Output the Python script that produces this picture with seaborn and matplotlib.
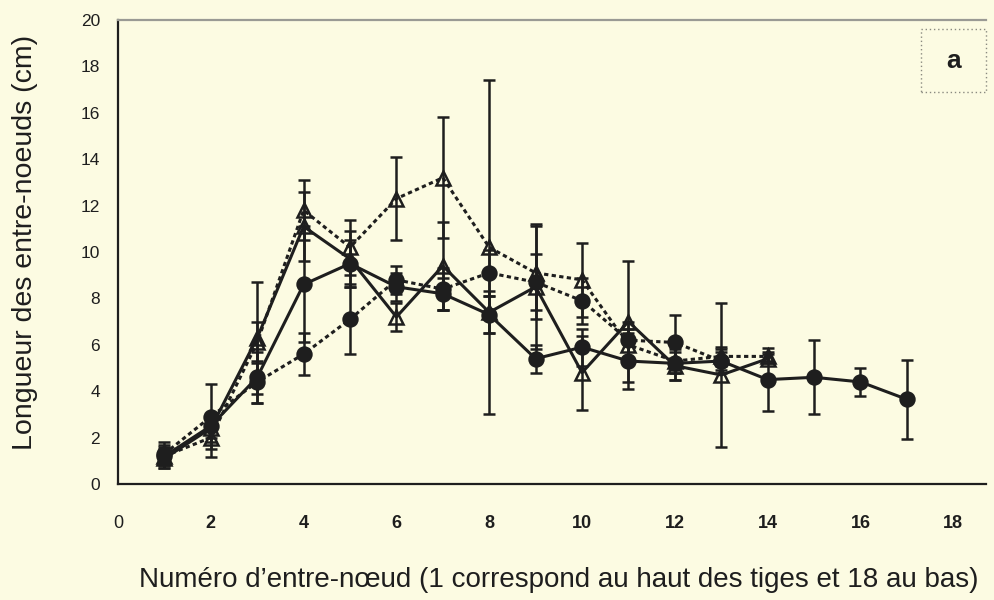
import matplotlib
matplotlib.use("Agg")
import matplotlib.pyplot as plt
from matplotlib.patches import Rectangle
import numpy as np
import pandas as pd
import seaborn as sns

# Internode number (1 = top of stem)
internodes_long = list(range(1, 18))
internodes_14 = list(range(1, 15))
internodes_13 = list(range(1, 14))

# Solid line, filled circles
solid_circle_mean = [1.2, 2.5, 4.6, 8.6, 9.5, 8.5, 8.2, 7.3, 5.4, 5.9, 5.3, 5.2, 5.3, 4.5, 4.6, 4.4, 3.65]
solid_circle_err = [0.4, 0.5, 1.1, 2.5, 1.0, 0.6, 0.7, 0.8, 0.6, 0.8, 1.2, 0.7, 0.4, 1.35, 1.6, 0.6, 1.7]

# Solid line, open triangles
solid_tri_mean = [1.1, 2.4, 6.3, 11.1, 9.7, 7.2, 9.4, 7.4, 8.5, 4.8, 7.0, 5.1, 4.7, 5.4]
solid_tri_err = [0.4, 0.6, 2.4, 1.5, 1.2, 0.6, 1.9, 0.9, 2.7, 1.6, 2.6, 0.6, 3.1, 0.2]

# Dotted line, filled circles
dotted_circle_mean = [1.3, 2.9, 4.4, 5.6, 7.1, 8.8, 8.4, 9.1, 8.7, 7.9, 6.2, 6.1, 5.3]
dotted_circle_err = [0.5, 1.4, 0.9, 0.9, 1.5, 0.6, 0.9, 1.0, 1.2, 1.0, 0.8, 1.2, 0.5]

# Dotted line, open triangles
dotted_tri_mean = [1.2, 2.0, 6.1, 11.8, 10.2, 12.3, 13.2, 10.2, 9.1, 8.8, 6.0, 5.3, 5.5, 5.5]
dotted_tri_err = [0.5, 0.85, 0.9, 1.3, 1.2, 1.8, 2.6, 7.2, 2.0, 1.6, 0.7, 0.5, 0.4, 0.2]

x_ticks = [0, 2, 4, 6, 8, 10, 12, 14, 16, 18]
y_ticks = [0, 2, 4, 6, 8, 10, 12, 14, 16, 18, 20]

x_label = "Numéro d\u2019entre-nœud (1 correspond au haut des tiges et 18 au bas)"
y_label = "Longueur des entre-noeuds (cm)"
panel_label = "a"

paper = "#FCFBE2"
ink = "#1e1e1e"
fonts = ["Liberation Sans", "DejaVu Sans"]

sns.set_style("white")
plt.rcParams["font.family"] = fonts

fig = plt.figure(figsize=(9.94, 6.0), dpi=100, facecolor=paper)
ax = fig.add_axes([0.1187, 0.1933, 0.873, 0.7734], facecolor=paper)

series = [
    (internodes_long, solid_circle_mean, solid_circle_err, "-", "o", ink),
    (internodes_14, solid_tri_mean, solid_tri_err, "-", "^", "none"),
    (internodes_13, dotted_circle_mean, dotted_circle_err, (0, (1.4, 1.1)), "o", ink),
    (internodes_14, dotted_tri_mean, dotted_tri_err, (0, (1.4, 1.1)), "^", "none"),
]

for xs, ms, es, ls, mk, fc in series:
    df = pd.DataFrame({"x": xs, "y": ms})
    ax.errorbar(df["x"], df["y"], yerr=es, fmt="none", ecolor=ink,
                elinewidth=1.8, capsize=4, capthick=1.8, zorder=2)
    sns.lineplot(data=df, x="x", y="y", ax=ax, color=ink, linestyle=ls,
                 linewidth=2.2, marker=mk, markersize=10,
                 markerfacecolor=fc, markeredgecolor=ink, markeredgewidth=1.8,
                 zorder=3)

ax.set_xlim(0, 18.7)
ax.set_ylim(0, 20)
ax.set_xticks(x_ticks)
ax.set_yticks(y_ticks)
ax.set_xticklabels([str(v) for v in x_ticks], fontsize=13, fontweight="bold", color=ink)
ax.set_yticklabels([str(v) for v in y_ticks], fontsize=12.5, color=ink)
ax.get_xticklabels()[0].set_fontweight("normal")
ax.tick_params(axis="both", direction="out", length=5, width=1.4, color=ink, pad=8)
ax.tick_params(axis="x", pad=17)

for side in ("left", "bottom"):
    ax.spines[side].set_color(ink)
    ax.spines[side].set_linewidth(1.6)
ax.spines["right"].set_visible(False)
ax.spines["top"].set_color("#9a9a94")
ax.spines["top"].set_linewidth(1.6)

ax.set_xlabel(x_label, fontsize=20, color=ink)
ax.set_ylabel(y_label, fontsize=20.5, color=ink)
ax.xaxis.set_label_coords(0.508, -0.178)
ax.yaxis.set_label_coords(-0.092, 0.52)

# Panel letter in a dotted frame
box = Rectangle((0.925, 0.845), 0.075, 0.135, transform=ax.transAxes, fill=False,
                edgecolor="#8a8a80", linewidth=1.0, linestyle=(0, (1, 2)), clip_on=False)
ax.add_patch(box)
ax.text(0.9625, 0.912, panel_label, transform=ax.transAxes, ha="center", va="center",
        fontsize=19, fontweight="bold", color=ink)

fig.savefig("out.png", dpi=100, facecolor=paper)
